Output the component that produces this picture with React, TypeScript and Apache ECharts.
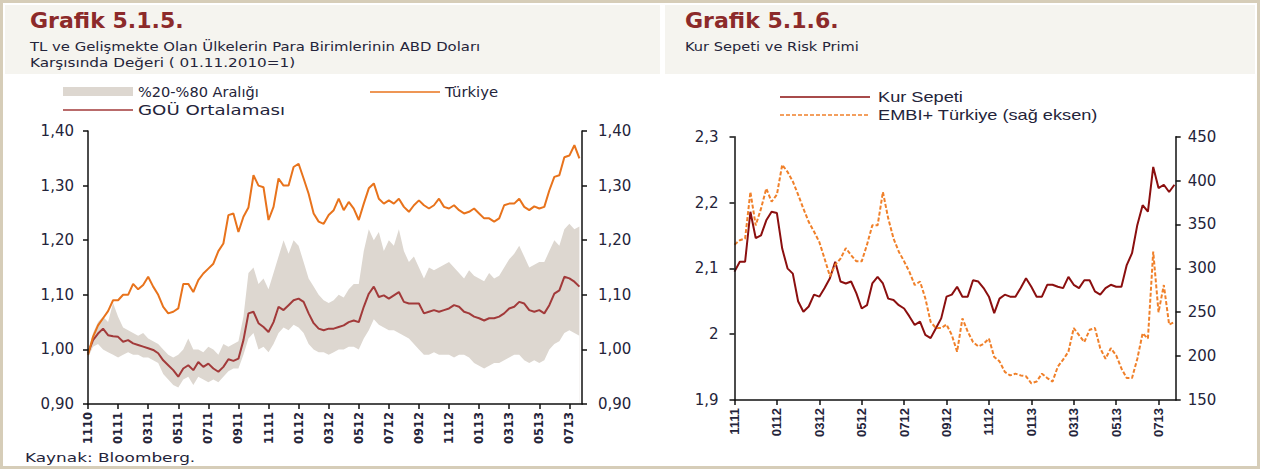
import React, { useEffect, useRef } from "react";
import * as echarts from "echarts";

// ---------- tick labels ----------
const leftTickLabels = ["1110", "0111", "0311", "0511", "0711", "0911", "1111", "0112", "0312", "0512", "0712", "0912", "1112", "0113", "0313", "0513", "0713"];
const rightTickLabels = ["1111", "0112", "0312", "0512", "0712", "0912", "1112", "0113", "0313", "0513", "0713"];

// ---------- Grafik 5.1.5 : one value every 1/3 month from 01.11.2010 ----------
const turkiye = [
  0.99, 1.023, 1.044, 1.057, 1.07, 1.09, 1.09, 1.10, 1.10, 1.12,
  1.11, 1.118, 1.133, 1.115, 1.10, 1.078, 1.066, 1.069, 1.075, 1.12,
  1.12, 1.105, 1.127, 1.139, 1.148, 1.157, 1.18, 1.194, 1.246, 1.249,
  1.215, 1.243, 1.26, 1.319, 1.30, 1.297, 1.237, 1.261, 1.313, 1.30,
  1.30, 1.334, 1.34, 1.313, 1.285, 1.249, 1.234, 1.23, 1.246, 1.255,
  1.276, 1.255, 1.27, 1.258, 1.237, 1.267, 1.295, 1.304, 1.276, 1.267,
  1.273, 1.267, 1.276, 1.261, 1.252, 1.264, 1.273, 1.264, 1.258, 1.264,
  1.276, 1.261, 1.258, 1.264, 1.255, 1.249, 1.252, 1.258, 1.249, 1.24,
  1.24, 1.234, 1.24, 1.264, 1.267, 1.267, 1.276, 1.261, 1.255, 1.262,
  1.258, 1.261, 1.291, 1.316, 1.319, 1.352, 1.355, 1.374, 1.35,
];
const gouOrtalamasi = [
  0.993, 1.017, 1.029, 1.038, 1.026, 1.024, 1.023, 1.014, 1.017, 1.011,
  1.008, 1.005, 1.002, 0.999, 0.993, 0.98, 0.971, 0.962, 0.95, 0.965,
  0.971, 0.962, 0.977, 0.968, 0.974, 0.965, 0.959, 0.968, 0.982, 0.979,
  0.983, 1.017, 1.066, 1.069, 1.048, 1.041, 1.032, 1.05, 1.078, 1.072,
  1.081, 1.09, 1.093, 1.087, 1.066, 1.048, 1.038, 1.035, 1.038, 1.038,
  1.041, 1.044, 1.05, 1.053, 1.05, 1.078, 1.102, 1.115, 1.096, 1.099,
  1.093, 1.099, 1.105, 1.087, 1.084, 1.084, 1.084, 1.066, 1.069, 1.072,
  1.069, 1.072, 1.075, 1.081, 1.078, 1.069, 1.066, 1.06, 1.057, 1.053,
  1.057, 1.057, 1.06, 1.066, 1.075, 1.078, 1.087, 1.084, 1.072, 1.069,
  1.072, 1.066, 1.081, 1.102, 1.108, 1.133, 1.13, 1.124, 1.115,
];
const yuzde20 = [
  0.985, 1.005, 1.01, 1.0, 0.995, 0.99, 0.985, 0.99, 0.995, 0.99,
  0.99, 0.985, 0.985, 0.98, 0.975, 0.955, 0.945, 0.935, 0.93, 0.945,
  0.95, 0.935, 0.95, 0.945, 0.94, 0.945, 0.94, 0.95, 0.96, 0.965,
  0.965, 0.99, 1.02, 1.03, 1.0, 1.005, 0.995, 1.01, 1.03, 1.04,
  1.035, 1.045, 1.04, 1.03, 1.01, 1.0, 0.995, 0.995, 0.99, 0.995,
  1.0, 1.0, 1.005, 1.005, 1.0, 1.02, 1.035, 1.055, 1.045, 1.04,
  1.035, 1.035, 1.03, 1.025, 1.02, 1.01, 1.0, 0.99, 0.99, 0.995,
  0.99, 0.99, 0.99, 0.985, 0.99, 0.99, 0.985, 0.975, 0.97, 0.965,
  0.97, 0.975, 0.975, 0.98, 0.985, 0.99, 0.99, 0.98, 0.975, 0.98,
  0.975, 0.98, 1.0, 1.01, 1.015, 1.03, 1.035, 1.03, 1.025,
];
const yuzde80 = [
  0.995, 1.03, 1.05, 1.06, 1.05, 1.085, 1.06, 1.04, 1.035, 1.03,
  1.025, 1.03, 1.02, 1.015, 1.01, 1.0, 0.99, 0.985, 0.99, 1.0,
  1.02, 1.0, 1.0, 0.995, 1.005, 1.0, 0.99, 1.01, 1.005, 1.01,
  1.015, 1.06, 1.14, 1.15, 1.12, 1.13, 1.11, 1.14, 1.17, 1.2,
  1.175, 1.2, 1.19, 1.16, 1.13, 1.115, 1.1, 1.09, 1.085, 1.09,
  1.1, 1.095, 1.11, 1.12, 1.12, 1.18, 1.22, 1.2, 1.215, 1.18,
  1.2, 1.19, 1.22, 1.18, 1.16, 1.17, 1.15, 1.13, 1.15, 1.145,
  1.15, 1.155, 1.16, 1.15, 1.14, 1.13, 1.145, 1.135, 1.13, 1.125,
  1.14, 1.13, 1.135, 1.15, 1.165, 1.175, 1.19, 1.17, 1.15, 1.155,
  1.16, 1.16, 1.18, 1.2, 1.19, 1.22, 1.23, 1.22, 1.225,
];

// ---------- Grafik 5.1.6 : one value every 1/4 month from 01.11.2011 ----------
const kurSepeti = [
  2.095, 2.11, 2.11, 2.186, 2.146, 2.15, 2.173, 2.186, 2.184, 2.13,
  2.1, 2.092, 2.05, 2.034, 2.042, 2.06, 2.057, 2.07, 2.085, 2.11,
  2.08, 2.077, 2.08, 2.062, 2.039, 2.044, 2.077, 2.087, 2.077, 2.054,
  2.052, 2.044, 2.039, 2.027, 2.014, 2.019, 1.999, 1.994, 2.009, 2.024,
  2.057, 2.06, 2.072, 2.057, 2.057, 2.082, 2.08, 2.07, 2.057, 2.032,
  2.054, 2.06, 2.057, 2.057, 2.07, 2.085, 2.072, 2.057, 2.057, 2.075,
  2.075, 2.072, 2.07, 2.087, 2.075, 2.07, 2.082, 2.082, 2.065, 2.06,
  2.07, 2.075, 2.072, 2.072, 2.105, 2.123, 2.166, 2.196, 2.186, 2.254,
  2.222, 2.227, 2.216, 2.227,
];
const embiTurkiye = [
  327, 332, 334, 387, 349, 368, 391, 376, 384, 418,
  410, 399, 384, 368, 353, 342, 330, 311, 291, 304,
  311, 323, 315, 308, 308, 327, 349, 349, 387, 357,
  334, 319, 308, 296, 281, 285, 266, 239, 232, 232,
  236, 224, 205, 243, 228, 216, 211, 214, 220, 199,
  194, 182, 178, 180, 178, 177, 169, 171, 180, 175,
  171, 188, 196, 205, 232, 224, 216, 230, 232, 209,
  197, 209, 201, 186, 175, 175, 197, 226, 220, 319,
  250, 281, 236, 239,
];

const LEFT_STEP = 1 / 3; // months per point
const RIGHT_STEP = 1 / 4;

const C_TR = "#e8731c";
const C_GOU = "#a23a3a";
const C_BAND = "#ddd7d0";
const C_KUR = "#8b0f0f";
const C_EMBI = "#f0802a";
const C_TEXT = "#24243a";
const C_TITLE = "#8c2a2a";
const C_BORDER = "#d6cdb8";
const C_HEAD = "#f5f4ef";
const FONT = '"DejaVu Sans", sans-serif';
const FONT2 = '"Liberation Sans", Arial, sans-serif';

function App() {
  const ref = useRef<HTMLDivElement>(null);
  useEffect(() => {
    if (!ref.current) return;
    const chart = echarts.init(ref.current, undefined, { renderer: "svg" });

    const leftPts = (arr: number[]) => arr.map((v, i) => [i * LEFT_STEP, v]);
    const rightPts = (arr: number[]) => arr.map((v, i) => [i * RIGHT_STEP, v]);

    const leftTickVals = leftTickLabels.map((_, i) => i * 2);
    const rightTickVals = rightTickLabels.map((_, i) => i * 2);

    const axisLine = { show: true, lineStyle: { color: "#111", width: 1.5 } };
    const axisTick = { show: true, length: 5, lineStyle: { color: "#111", width: 1.5 } };

    const yLeftLabel = { color: C_TEXT, fontFamily: FONT, fontSize: 15, formatter: (v: number) => v.toFixed(2).replace(".", ",") };
    const yRightLabel2 = { color: C_TEXT, fontFamily: FONT, fontSize: 15 };

    const text = (x: number, y: number, t: string, font: string, fill = C_TEXT, sx = 1) => ({
      type: "text",
      x,
      y,
      scaleX: sx,
      style: { text: t, font, fill, textVerticalAlign: "middle" },
    });

    const option: any = {
      animation: false,
      backgroundColor: "#ffffff",
      grid: [
        { left: 88, top: 131, width: 494, height: 273 },
        { left: 734.5, top: 136.7, width: 441.2, height: 263.3 },
      ],
      xAxis: [
        {
          type: "value",
          gridIndex: 0,
          z: 10,
          min: 0,
          max: 32.84,
          axisLine,
          axisTick: { ...axisTick, customValues: leftTickVals },
          splitLine: { show: false },
          axisLabel: {
            customValues: leftTickVals,
            rotate: 90,
            margin: 8,
            color: C_TEXT,
            fontFamily: FONT,
            fontSize: 11.5,
            fontWeight: "bold",
            formatter: (v: number) => leftTickLabels[Math.round(v / 2)] ?? "",
          },
        },
        {
          type: "value",
          gridIndex: 1,
          z: 10,
          min: 0,
          max: 20.81,
          axisLine,
          axisTick: { ...axisTick, customValues: rightTickVals },
          splitLine: { show: false },
          axisLabel: {
            customValues: rightTickVals,
            rotate: 90,
            margin: 8,
            color: C_TEXT,
            fontFamily: FONT2,
            fontSize: 13,
            fontWeight: "bold",
            formatter: (v: number) => rightTickLabels[Math.round(v / 2)] ?? "",
          },
        },
      ],
      yAxis: [
        { type: "value", gridIndex: 0, z: 10, position: "left", min: 0.9, max: 1.4, interval: 0.1, axisLine, axisTick, splitLine: { show: false }, axisLabel: { ...yLeftLabel, margin: 14 } },
        { type: "value", gridIndex: 0, z: 10, position: "right", min: 0.9, max: 1.4, interval: 0.1, axisLine, axisTick, splitLine: { show: false }, axisLabel: { ...yLeftLabel, margin: 16 } },
        {
          type: "value", gridIndex: 1, z: 10, position: "left", min: 1.9, max: 2.3, interval: 0.1, axisLine, axisTick, splitLine: { show: false },
          axisLabel: { ...yRightLabel2, margin: 16, formatter: (v: number) => String(+v.toFixed(1)).replace(".", ",") },
        },
        {
          type: "value", gridIndex: 1, z: 10, position: "right", min: 150, max: 450, interval: 50, axisLine, axisTick, splitLine: { show: false },
          axisLabel: { ...yRightLabel2, margin: 12 },
        },
      ],
      series: [
        // band: upper bound filled to the axis, lower bound covered in white
        { name: "%20-%80 Aralığı", type: "line", xAxisIndex: 0, yAxisIndex: 0, data: leftPts(yuzde80), symbol: "none", lineStyle: { width: 0, opacity: 0 }, areaStyle: { color: C_BAND, opacity: 1, origin: "start" }, silent: true, z: 1 },
        { name: "%20", type: "line", xAxisIndex: 0, yAxisIndex: 0, data: leftPts(yuzde20), symbol: "none", lineStyle: { width: 0, opacity: 0 }, areaStyle: { color: "#ffffff", opacity: 1, origin: "start" }, silent: true, z: 1 },
        { name: "GOÜ Ortalaması", type: "line", xAxisIndex: 0, yAxisIndex: 0, data: leftPts(gouOrtalamasi), symbol: "none", lineStyle: { color: C_GOU, width: 2 }, z: 3 },
        { name: "Türkiye", type: "line", xAxisIndex: 0, yAxisIndex: 0, data: leftPts(turkiye), symbol: "none", lineStyle: { color: C_TR, width: 2 }, z: 4 },
        { name: "Kur Sepeti", type: "line", xAxisIndex: 1, yAxisIndex: 2, data: rightPts(kurSepeti), symbol: "none", lineStyle: { color: C_KUR, width: 2 }, z: 3 },
        { name: "EMBI+ Türkiye (sağ eksen)", type: "line", xAxisIndex: 1, yAxisIndex: 3, data: rightPts(embiTurkiye), symbol: "none", lineStyle: { color: C_EMBI, width: 2, type: [4, 2] }, z: 4 },
      ],
      graphic: [
        { type: "rect", z: -10, shape: { x: 1.5, y: 1.5, width: 1257, height: 466 }, style: { fill: "none", stroke: C_BORDER, lineWidth: 3 } },
        { type: "rect", z: -10, shape: { x: 5, y: 5, width: 655, height: 69 }, style: { fill: C_HEAD } },
        { type: "rect", z: -10, shape: { x: 665, y: 5, width: 590, height: 69 }, style: { fill: C_HEAD } },
        text(30, 21, "Grafik 5.1.5.", `bold 21px ${FONT}`, C_TITLE, 1.05),
        text(30, 46, "TL ve Gelişmekte Olan Ülkelerin Para Birimlerinin ABD Doları", `12.5px ${FONT}`, C_TEXT, 1.19),
        text(30, 63, "Karşısında Değeri ( 01.11.2010=1)", `12.5px ${FONT}`, C_TEXT, 1.22),
        { type: "rect", shape: { x: 63, y: 87, width: 70, height: 9 }, style: { fill: C_BAND } },
        text(138, 92, "%20-%80 Aralığı", `14px ${FONT}`, C_TEXT, 1.04),
        { type: "line", shape: { x1: 370, y1: 92, x2: 440, y2: 92 }, style: { stroke: C_TR, lineWidth: 1.5 } },
        text(445, 92, "Türkiye", `14px ${FONT}`, C_TEXT, 1.06),
        { type: "line", shape: { x1: 63, y1: 110, x2: 133, y2: 110 }, style: { stroke: C_GOU, lineWidth: 1.5 } },
        text(138, 110, "GOÜ Ortalaması", `14px ${FONT}`, C_TEXT, 1.3),
        text(25, 458, "Kaynak: Bloomberg.", `13px ${FONT}`, C_TEXT, 1.3),
        text(685, 21, "Grafik 5.1.6.", `bold 21px ${FONT}`, C_TITLE, 1.05),
        text(685, 46, "Kur Sepeti ve Risk Primi", `12.5px ${FONT}`, C_TEXT, 1.17),
        { type: "line", shape: { x1: 780, y1: 97, x2: 870, y2: 97 }, style: { stroke: C_KUR, lineWidth: 1.5 } },
        text(878, 97, "Kur Sepeti", `14px ${FONT2}`, C_TEXT, 1.3),
        { type: "line", shape: { x1: 780, y1: 115, x2: 870, y2: 115 }, style: { stroke: C_EMBI, lineWidth: 1.5, lineDash: [4, 2] } },
        text(878, 115, "EMBI+ Türkiye (sağ eksen)", `14px ${FONT2}`, C_TEXT, 1.3),
      ],
    };
    chart.setOption(option);
    return () => chart.dispose();
  }, []);
  return <div ref={ref} style={{ position: "absolute", left: 0, top: 0, width: 1265, height: 470 }} />;
}

export default App;
